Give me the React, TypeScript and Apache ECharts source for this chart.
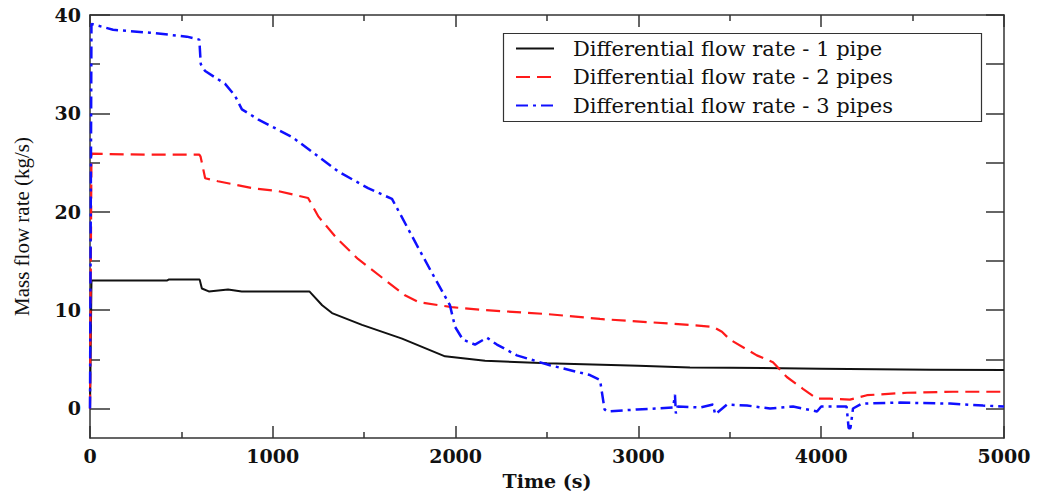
import React, { useEffect, useRef } from "react";
import * as echarts from "echarts";

// Time (s) and mass flow rate (kg/s)
const pipe1Time = [0, 8, 420, 430, 600, 612, 650, 755, 830, 1000, 1200, 1270, 1324, 1488, 1707, 1942, 2161, 2500, 3000, 3282, 3500, 4000, 4600, 5000];
const pipe1Flow = [0, 13.0, 13.0, 13.1, 13.1, 12.2, 11.9, 12.1, 11.9, 11.9, 11.9, 10.5, 9.7, 8.5, 7.1, 5.3, 4.85, 4.6, 4.35, 4.16, 4.15, 4.05, 3.95, 3.9];

const pipe2Time = [0, 8, 300, 598, 605, 630, 700, 886, 1028, 1193, 1250, 1350, 1466, 1723, 1800, 1980, 2161, 2500, 2790, 3282, 3408, 3457, 3501, 3648, 3736, 3812, 3900, 3977, 4048, 4157, 4250, 4469, 4721, 5000];
const pipe2Flow = [0, 25.9, 25.8, 25.8, 25.6, 23.4, 23.1, 22.4, 22.1, 21.4, 19.5, 17.3, 15.2, 11.5, 10.8, 10.3, 10.0, 9.6, 9.1, 8.5, 8.3, 7.8, 7.0, 5.4, 4.7, 3.2, 2.0, 1.0, 1.0, 0.9, 1.35, 1.6, 1.7, 1.7];

const pipe3Time = [0, 8, 126, 328, 530, 598, 606, 630, 739, 793, 831, 919, 1105, 1214, 1357, 1521, 1652, 1696, 1788, 1876, 1969, 1997, 2040, 2106, 2171, 2226, 2335, 2516, 2735, 2790, 2815, 2830, 2992, 3100, 3190, 3200, 3205, 3215, 3337, 3408, 3420, 3485, 3594, 3720, 3846, 3977, 4000, 4065, 4139, 4150, 4160, 4174, 4223, 4431, 4705, 4885, 5000];
const pipe3Flow = [0, 39.1, 38.5, 38.2, 37.8, 37.5, 35.0, 34.3, 33.0, 31.8, 30.4, 29.4, 27.6, 26.1, 24.1, 22.4, 21.3, 19.8, 16.6, 13.6, 10.5, 8.3, 7.0, 6.5, 7.2, 6.5, 5.4, 4.4, 3.4, 2.9, -0.1, -0.3, -0.1, 0.0, 0.1, 1.4, -0.5, 0.2, 0.1, 0.4, -0.6, 0.4, 0.3, 0.0, 0.2, -0.3, 0.2, 0.2, 0.2, -2.0, -2.0, 0.0, 0.5, 0.6, 0.5, 0.3, 0.2];

const seriesNames = [
  "Differential flow rate - 1 pipe",
  "Differential flow rate - 2 pipes",
  "Differential flow rate - 3 pipes",
];

const yMajorTicks = [0, 10, 20, 30, 40];
const yMinorTicks = [5, 15, 25, 35];
const yAllTicks = [0, 5, 10, 15, 20, 25, 30, 35, 40];

const zip = (t: number[], v: number[]) => t.map((x, i) => [x, v[i]]);

const AXIS_COLOR = "#333";
const SERIF = "DejaVu Serif";

export default function App() {
  const ref = useRef<HTMLDivElement>(null);

  useEffect(() => {
    if (!ref.current) return;
    const chart = echarts.init(ref.current, undefined, { renderer: "svg" });
    const axisLine = { show: true, onZero: false, lineStyle: { color: AXIS_COLOR, width: 1.5 } };
    const tickStyle = { color: AXIS_COLOR, width: 1.5 };
    chart.setOption({
      animation: false,
      backgroundColor: "#fff",
      grid: { left: 90, right: 36, top: 15, bottom: 54, containLabel: false },
      legend: {
        orient: "vertical",
        left: 515,
        top: 38,
        padding: 0,
        itemWidth: 38,
        itemHeight: 14,
        itemGap: 7.5,
        z: 10,
        data: seriesNames,
        itemStyle: { opacity: 0, borderWidth: 0 },
        textStyle: {
          fontFamily: SERIF,
          fontSize: 21,
          lineHeight: 20,
          color: "#111",
          padding: [0, 0, 0, 14],
        },
      },
      graphic: [
        {
          type: "rect",
          z: 5,
          shape: { x: 503.5, y: 33.5, width: 478, height: 88 },
          style: { fill: "#fff", stroke: AXIS_COLOR, lineWidth: 1.2 },
        },
      ],
      xAxis: [
        {
          type: "value",
          position: "bottom",
          min: 0,
          max: 5000,
          interval: 1000,
          axisLine,
          axisTick: { show: true, inside: true, length: 12, lineStyle: tickStyle },
          minorTick: { show: true, splitNumber: 2, length: 6, lineStyle: tickStyle },
          splitLine: { show: false },
          minorSplitLine: { show: false },
          axisLabel: {
            fontFamily: SERIF,
            fontWeight: "bold",
            fontSize: 19,
            color: "#111",
            margin: 8,
            formatter: (v: number) => String(v),
          },
          name: "Time (s)",
          nameLocation: "middle",
          nameGap: 33,
          nameTextStyle: { fontFamily: SERIF, fontSize: 19, fontWeight: "bold", color: "#111" },
        },
        {
          type: "value",
          position: "top",
          min: 0,
          max: 5000,
          interval: 1000,
          axisLine,
          axisTick: { show: true, inside: true, length: 12, lineStyle: tickStyle },
          minorTick: { show: true, splitNumber: 2, length: 6, lineStyle: tickStyle },
          splitLine: { show: false },
          axisLabel: { show: false },
        },
      ],
      yAxis: [
        {
          type: "value",
          position: "left",
          min: -3,
          max: 40,
          axisLine,
          axisTick: { show: true, inside: true, length: 20, customValues: yMajorTicks, lineStyle: tickStyle },
          axisLabel: {
            customValues: yMajorTicks,
            fontFamily: SERIF,
            fontWeight: "bold",
            fontSize: 19,
            color: "#111",
            margin: 9,
            formatter: (v: number) => String(v),
          },
          splitLine: { show: false },
          name: "Mass flow rate (kg/s)",
          nameLocation: "middle",
          nameGap: 58,
          nameTextStyle: { fontFamily: "Liberation Serif", fontSize: 21, color: "#111" },
        },
        {
          type: "value",
          position: "left",
          min: -3,
          max: 40,
          axisLine: { show: false },
          axisTick: { show: true, inside: true, length: 10, customValues: yMinorTicks, lineStyle: tickStyle },
          axisLabel: { show: false, customValues: yMinorTicks },
          splitLine: { show: false },
        },
        {
          type: "value",
          position: "right",
          min: -3,
          max: 40,
          axisLine,
          axisTick: { show: true, inside: true, length: 18, customValues: yAllTicks, lineStyle: tickStyle },
          axisLabel: { show: false, customValues: yAllTicks },
          splitLine: { show: false },
        },
      ],
      series: [
        {
          name: seriesNames[0],
          type: "line",
          xAxisIndex: 0,
          yAxisIndex: 0,
          symbol: "none",
          data: zip(pipe1Time, pipe1Flow),
          lineStyle: { color: "#111", width: 2 },
          itemStyle: { color: "#111" },
          z: 3,
        },
        {
          name: seriesNames[1],
          type: "line",
          xAxisIndex: 0,
          yAxisIndex: 0,
          symbol: "none",
          data: zip(pipe2Time, pipe2Flow),
          lineStyle: { color: "#ff1a1a", width: 2.2, type: [14, 7] },
          itemStyle: { color: "#ff1a1a" },
          z: 3,
        },
        {
          name: seriesNames[2],
          type: "line",
          xAxisIndex: 0,
          yAxisIndex: 0,
          symbol: "none",
          data: zip(pipe3Time, pipe3Flow),
          lineStyle: { color: "#1010ff", width: 2.5, type: [12, 5, 3, 5] },
          itemStyle: { color: "#1010ff" },
          z: 3,
        },
      ],
    });
    return () => chart.dispose();
  }, []);

  return (
    <div
      ref={ref}
      style={{ position: "fixed", left: 0, top: 0, width: 1040, height: 495, background: "#fff" }}
    />
  );
}
